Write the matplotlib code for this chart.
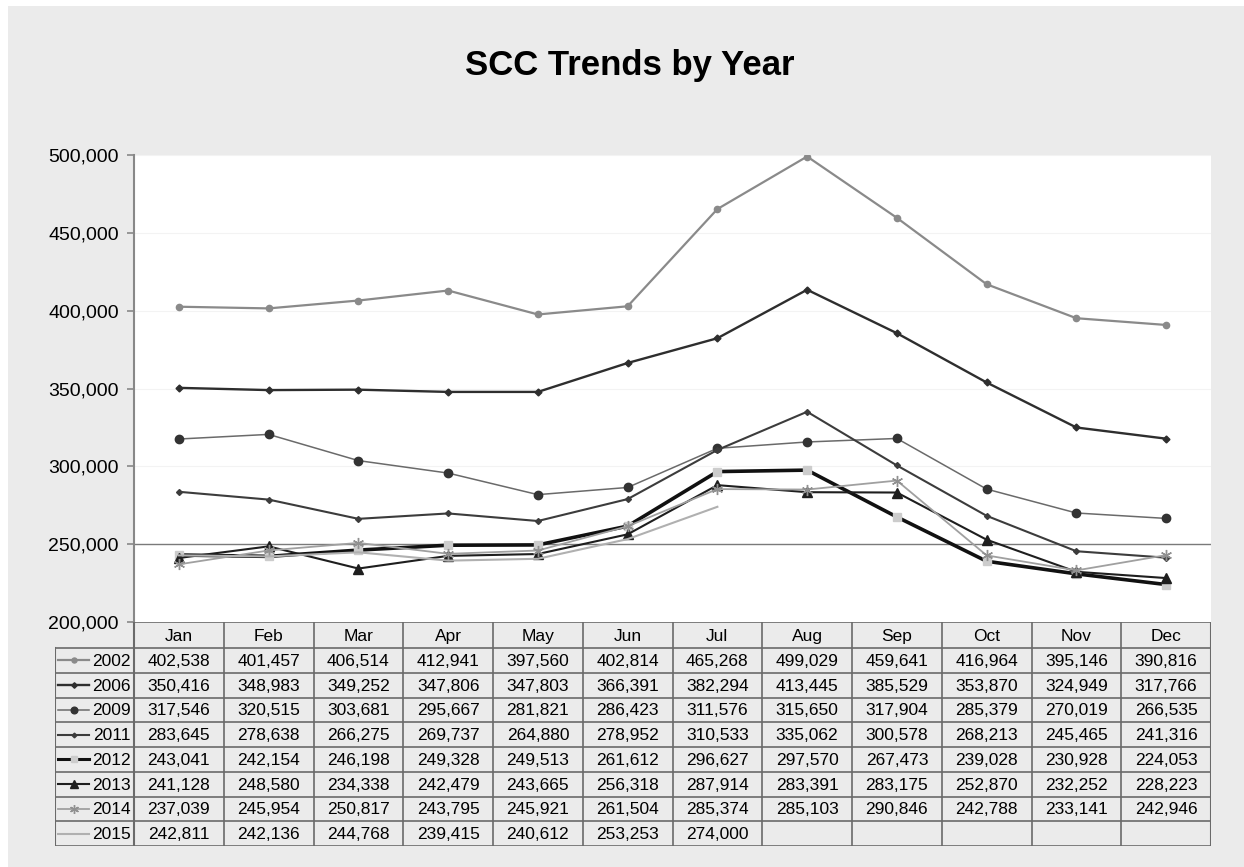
import numpy as np
import matplotlib.pyplot as plt
from matplotlib.patches import Rectangle

plt.rcParams['font.family'] = ['Liberation Sans', 'DejaVu Sans']

months = ['Jan', 'Feb', 'Mar', 'Apr', 'May', 'Jun', 'Jul', 'Aug', 'Sep', 'Oct', 'Nov', 'Dec']
years = ['2002', '2006', '2009', '2011', '2012', '2013', '2014', '2015']

scc_2002 = [402538, 401457, 406514, 412941, 397560, 402814, 465268, 499029, 459641, 416964, 395146, 390816]
scc_2006 = [350416, 348983, 349252, 347806, 347803, 366391, 382294, 413445, 385529, 353870, 324949, 317766]
scc_2009 = [317546, 320515, 303681, 295667, 281821, 286423, 311576, 315650, 317904, 285379, 270019, 266535]
scc_2011 = [283645, 278638, 266275, 269737, 264880, 278952, 310533, 335062, 300578, 268213, 245465, 241316]
scc_2012 = [243041, 242154, 246198, 249328, 249513, 261612, 296627, 297570, 267473, 239028, 230928, 224053]
scc_2013 = [241128, 248580, 234338, 242479, 243665, 256318, 287914, 283391, 283175, 252870, 232252, 228223]
scc_2014 = [237039, 245954, 250817, 243795, 245921, 261504, 285374, 285103, 290846, 242788, 233141, 242946]
scc_2015 = [242811, 242136, 244768, 239415, 240612, 253253, 274000]

series = [scc_2002, scc_2006, scc_2009, scc_2011, scc_2012, scc_2013, scc_2014, scc_2015]

# line style per year: color, width, marker, marker size, marker color
styles = [
    dict(color='#8a8a8a', lw=1.6, marker='o', ms=4.5, mfc='#8a8a8a', mec='#8a8a8a'),
    dict(color='#2e2e2e', lw=1.7, marker='D', ms=3.5, mfc='#2e2e2e', mec='#2e2e2e'),
    dict(color='#6a6a6a', lw=1.1, marker='o', ms=6, mfc='#333333', mec='#333333'),
    dict(color='#3c3c3c', lw=1.5, marker='D', ms=3, mfc='#3c3c3c', mec='#3c3c3c'),
    dict(color='#111111', lw=2.6, marker='s', ms=6, mfc='#cccccc', mec='#cccccc'),
    dict(color='#1e1e1e', lw=1.5, marker='^', ms=6.5, mfc='#1e1e1e', mec='#1e1e1e'),
    dict(color='#a0a0a0', lw=1.3, marker=(6, 2, 0), ms=8, mfc='#909090', mec='#909090'),
    dict(color='#b0b0b0', lw=1.5, marker=None, ms=0, mfc='#b0b0b0', mec='#b0b0b0'),
]

W, H = 1244, 867
fig = plt.figure(figsize=(W / 100, H / 100), dpi=100)
fig.patch.set_facecolor('white')
fig.add_artist(Rectangle((8 / W, 0), 1, 1 - 6 / H, transform=fig.transFigure,
                         facecolor='#ebebeb', edgecolor='none', zorder=-10))

x0, x1 = 134, 1211
y0, y1 = 155, 622
ax = fig.add_axes([x0 / W, 1 - y1 / H, (x1 - x0) / W, (y1 - y0) / H])
ax.set_facecolor('white')

x = np.arange(len(months))
for vals, st in zip(series, styles):
    ax.plot(x[:len(vals)], vals, color=st['color'], lw=st['lw'], marker=st['marker'],
            markersize=st['ms'], markerfacecolor=st['mfc'], markeredgecolor=st['mec'],
            zorder=3)

ax.set_xlim(-0.5, 11.5)
ax.set_ylim(200000, 500000)
ax.set_yticks(np.arange(200000, 500001, 50000))
ax.set_yticklabels([f'{v:,}' for v in range(200000, 500001, 50000)], fontsize=14)
ax.set_xticks([])
for yv in range(250000, 500001, 50000):
    ax.axhline(yv, color='#f3f3f3', lw=0.8, zorder=1)
ax.axhline(250000, color='#7a7a7a', lw=1.0, zorder=2)
for s in ['top', 'right', 'bottom']:
    ax.spines[s].set_visible(False)
ax.spines['left'].set_color('#888888')
ax.spines['left'].set_linewidth(1.5)
ax.tick_params(axis='y', length=5, color='#888888', width=1.2, pad=6)

fig.text(630 / W, 1 - 75 / H, 'SCC Trends by Year', ha='center', va='baseline',
         fontsize=25, fontweight='bold')

# data table
tx0, tx1 = 55, 1211
ty0, ty1 = 622, 846
tax = fig.add_axes([tx0 / W, 1 - ty1 / H, (tx1 - tx0) / W, (ty1 - ty0) / H])
tax.set_xlim(tx0, tx1)
tax.set_ylim(ty1, ty0)
tax.axis('off')

col_w = (x1 - x0) / len(months)
head_h = 26
row_h = (ty1 - ty0 - head_h) / len(years)
lc = '#6a6a6a'
fs = 12.5

# header
tax.plot([x0, x1], [ty0, ty0], color=lc, lw=1.2)
for i, m in enumerate(months):
    tax.text(x0 + (i + 0.5) * col_w, ty0 + head_h / 2 + 1, m, ha='center', va='center', fontsize=fs)
# horizontal row lines
for r in range(len(years) + 1):
    yy = ty0 + head_h + r * row_h
    tax.plot([tx0, x1], [yy, yy], color=lc, lw=1.2)
# vertical lines
tax.plot([tx0, tx0], [ty0 + head_h, ty1], color=lc, lw=1.5)
for i in range(len(months) + 1):
    xx = x0 + i * col_w
    tax.plot([xx, xx], [ty0, ty1], color=lc, lw=1.5 if i in (0, len(months)) else 1.2)

for r, (yr, vals, st) in enumerate(zip(years, series, styles)):
    yc = ty0 + head_h + (r + 0.5) * row_h
    tax.plot([58, 89], [yc, yc], color=st['color'], lw=min(st['lw'], 2.2), zorder=3)
    if st['marker'] is not None:
        tax.plot([73.5], [yc], marker=st['marker'], markersize=st['ms'] * 0.8,
                 markerfacecolor=st['mfc'], markeredgecolor=st['mec'], zorder=4)
    tax.text(131, yc + 1, yr, ha='right', va='center', fontsize=fs)
    for i, v in enumerate(vals):
        tax.text(x0 + (i + 0.5) * col_w, yc + 1, f'{v:,}', ha='center', va='center', fontsize=fs)

fig.savefig('out.png', dpi=100, facecolor=fig.get_facecolor())
